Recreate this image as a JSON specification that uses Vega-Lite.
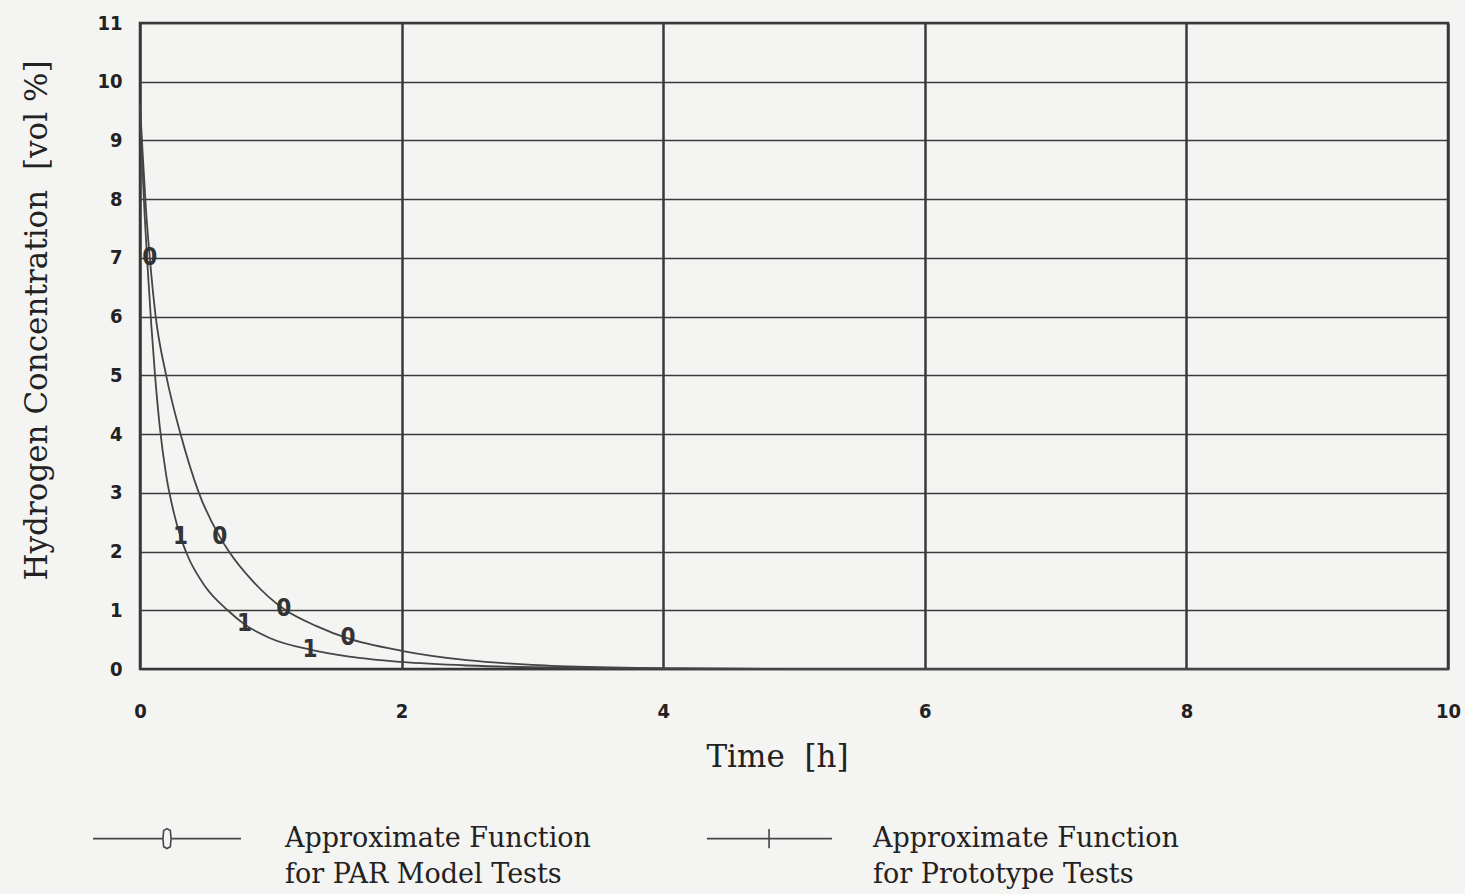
{
  "$schema": "https://vega.github.io/schema/vega-lite/v6.json",
  "width": 1308,
  "height": 646,
  "autosize": {"type": "none"},
  "padding": {"left": 140, "top": 23, "right": 17, "bottom": 225},
  "background": "#f4f4f2",
  "config": {
    "view": {"stroke": "#333333", "strokeWidth": 2.5},
    "axis": {
      "labelFont": "DejaVu Sans Condensed",
      "labelFontWeight": "bold",
      "labelFontSize": 20,
      "labelColor": "#222222",
      "format": "d",
      "ticks": false,
      "domain": false,
      "gridColor": "#3a3a3a",
      "gridOpacity": 1,
      "titleFont": "DejaVu Serif",
      "titleFontWeight": "normal",
      "titleFontSize": 31,
      "titleColor": "#222222"
    }
  },
  "datasets": {
    "curves": [
      {"t": 0, "c": 9.6, "series": "PAR Model Tests"},
      {"t": 0.02, "c": 8.8, "series": "PAR Model Tests"},
      {"t": 0.045, "c": 7.85, "series": "PAR Model Tests"},
      {"t": 0.075, "c": 7.0, "series": "PAR Model Tests"},
      {"t": 0.12, "c": 6.0, "series": "PAR Model Tests"},
      {"t": 0.2, "c": 5.0, "series": "PAR Model Tests"},
      {"t": 0.31, "c": 4.0, "series": "PAR Model Tests"},
      {"t": 0.45, "c": 3.0, "series": "PAR Model Tests"},
      {"t": 0.61, "c": 2.25, "series": "PAR Model Tests"},
      {"t": 0.68, "c": 2.0, "series": "PAR Model Tests"},
      {"t": 0.86, "c": 1.5, "series": "PAR Model Tests"},
      {"t": 1.1, "c": 1.02, "series": "PAR Model Tests"},
      {"t": 1.35, "c": 0.73, "series": "PAR Model Tests"},
      {"t": 1.59, "c": 0.52, "series": "PAR Model Tests"},
      {"t": 2.0, "c": 0.31, "series": "PAR Model Tests"},
      {"t": 2.5, "c": 0.15, "series": "PAR Model Tests"},
      {"t": 3.0, "c": 0.07, "series": "PAR Model Tests"},
      {"t": 3.5, "c": 0.03, "series": "PAR Model Tests"},
      {"t": 4.0, "c": 0.01, "series": "PAR Model Tests"},
      {"t": 5.0, "c": 0.0, "series": "PAR Model Tests"},
      {"t": 10.0, "c": 0.0, "series": "PAR Model Tests"},
      {"t": 0, "c": 9.6, "series": "Prototype Tests"},
      {"t": 0.015, "c": 8.7, "series": "Prototype Tests"},
      {"t": 0.035, "c": 7.75, "series": "Prototype Tests"},
      {"t": 0.058, "c": 6.85, "series": "Prototype Tests"},
      {"t": 0.085, "c": 5.9, "series": "Prototype Tests"},
      {"t": 0.115, "c": 5.0, "series": "Prototype Tests"},
      {"t": 0.15, "c": 4.15, "series": "Prototype Tests"},
      {"t": 0.2, "c": 3.3, "series": "Prototype Tests"},
      {"t": 0.26, "c": 2.65, "series": "Prototype Tests"},
      {"t": 0.31, "c": 2.25, "series": "Prototype Tests"},
      {"t": 0.36, "c": 1.95, "series": "Prototype Tests"},
      {"t": 0.5, "c": 1.4, "series": "Prototype Tests"},
      {"t": 0.67, "c": 1.0, "series": "Prototype Tests"},
      {"t": 0.8, "c": 0.76, "series": "Prototype Tests"},
      {"t": 1.0, "c": 0.52, "series": "Prototype Tests"},
      {"t": 1.3, "c": 0.33, "series": "Prototype Tests"},
      {"t": 1.6, "c": 0.21, "series": "Prototype Tests"},
      {"t": 2.0, "c": 0.12, "series": "Prototype Tests"},
      {"t": 2.5, "c": 0.06, "series": "Prototype Tests"},
      {"t": 3.0, "c": 0.03, "series": "Prototype Tests"},
      {"t": 4.0, "c": 0.01, "series": "Prototype Tests"},
      {"t": 5.0, "c": 0.0, "series": "Prototype Tests"},
      {"t": 10.0, "c": 0.0, "series": "Prototype Tests"}
    ],
    "markers": [
      {"t": 0.075, "c": 7.0, "tag": "0"},
      {"t": 0.61, "c": 2.25, "tag": "0"},
      {"t": 1.1, "c": 1.02, "tag": "0"},
      {"t": 1.59, "c": 0.52, "tag": "0"},
      {"t": 0.31, "c": 2.25, "tag": "1"},
      {"t": 0.8, "c": 0.76, "tag": "1"},
      {"t": 1.3, "c": 0.33, "tag": "1"}
    ]
  },
  "layer": [
    {
      "data": {"name": "curves"},
      "mark": {"type": "line", "interpolate": "monotone", "strokeWidth": 1.8},
      "encoding": {
        "x": {
          "field": "t",
          "type": "quantitative",
          "scale": {"domain": [0, 10], "nice": false},
          "axis": {
            "values": [0, 2, 4, 6, 8, 10],
            "title": "Time\u00a0\u00a0[h]",
            "titleX": 637,
            "titleY": 88,
            "titleBaseline": "middle",
            "labelPadding": 32,
            "labelBaseline": "top",
            "labelFlush": false,
            "gridWidth": 2.5
          }
        },
        "y": {
          "field": "c",
          "type": "quantitative",
          "scale": {"domain": [0, 11], "nice": false},
          "axis": {
            "values": [0, 1, 2, 3, 4, 5, 6, 7, 8, 9, 10, 11],
            "title": "Hydrogen Concentration\u00a0\u00a0[vol %]",
            "titleX": -103,
            "titleY": 297,
            "titleAngle": -90,
            "titleAlign": "center",
            "titleBaseline": "middle",
            "labelPadding": 18,
            "labelFlush": false,
            "gridWidth": 1.6
          }
        },
        "color": {
          "field": "series",
          "type": "nominal",
          "scale": {"domain": ["PAR Model Tests", "Prototype Tests"], "range": ["#454545", "#454545"]},
          "legend": {
            "orient": "none",
            "legendX": -48,
            "legendY": 728,
            "direction": "horizontal",
            "title": null,
            "symbolSize": 21904,
            "symbolStrokeWidth": 1.6,
            "labelOffset": 43,
            "labelLimit": 600,
            "labelFont": "DejaVu Serif",
            "labelFontSize": 27,
            "labelColor": "#222222",
            "labelBaseline": "top",
            "columnPadding": 89,
            "labelExpr": "['Approximate Function', 'for ' + datum.label]",
            "encode": {
              "symbols": {
                "update": {
                  "shape": {"signal": "datum.value == 'PAR Model Tests' ? 'M-1,0.17H-0.06M0.06,0.17H1M0,0.035L0.045,0.06L0.055,0.17L0.045,0.28L0,0.305L-0.045,0.28L-0.055,0.17L-0.045,0.06Z' : 'M-0.65,0.17H1.04M0.19,0.04V0.3'"},
                  "fill": {"value": "transparent"},
                  "strokeWidth": {"value": 1.6}
                }
              },
              "labels": {
                "update": {"lineHeight": {"value": 36}}
              }
            }
          }
        }
      }
    },
    {
      "data": {"name": "markers"},
      "mark": {
        "type": "text",
        "font": "DejaVu Sans Condensed",
        "fontWeight": "bold",
        "fontSize": 24,
        "color": "#333333",
        "align": "center",
        "baseline": "middle"
      },
      "encoding": {
        "x": {"field": "t", "type": "quantitative"},
        "y": {"field": "c", "type": "quantitative"},
        "text": {"field": "tag"}
      }
    }
  ]
}
